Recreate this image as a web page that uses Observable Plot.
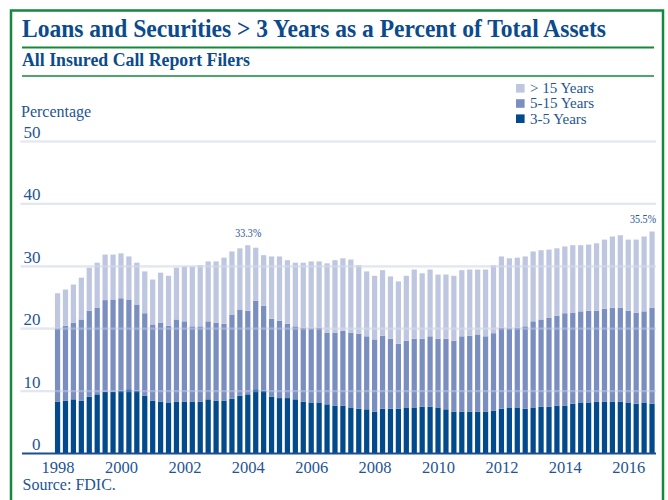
<!DOCTYPE html>
<html><head><meta charset="utf-8">
<script src="https://cdn.jsdelivr.net/npm/d3@7"></script>
<script src="https://cdn.jsdelivr.net/npm/@observablehq/plot@0.6"></script>
<style>
body{margin:0;background:#fff;}
#wrap{position:relative;width:668px;height:500px;overflow:hidden;background:#fff;}
#wrap svg{position:absolute;left:0;top:0;}
</style></head><body><div id="wrap"></div>
<script>
// Categories: quarters 1998Q1 .. 2016Q4
const years = ["1998","1999","2000","2001","2002","2003","2004","2005","2006","2007","2008","2009","2010","2011","2012","2013","2014","2015","2016"];
const quarters = years.flatMap(y => ["Q1","Q2","Q3","Q4"].map(q => y + q));
const series = ["3-5 Years", "5-15 Years", "> 15 Years"];
const colors = ["#034a8c", "#7a8ebf", "#bfc7e0"];

// Series values (percent of total assets), one per quarter
const v3to5 = [
  8.2, 8.4, 8.6, 8.4,  9.0, 9.4, 9.8, 9.8,  10.0, 10.2, 10.0, 9.2,  8.4, 8.2, 8.1, 8.2,
  8.2, 8.2, 8.2, 8.6,  8.4, 8.4, 8.7, 9.2,  9.4, 10.2, 10.0, 9.0,  8.8, 8.8, 8.6, 8.2,
  8.1, 8.1, 7.8, 7.6,  7.6, 7.3, 7.1, 7.0,  6.6, 7.1, 7.1, 7.1,  7.3, 7.3, 7.4, 7.4,
  7.3, 7.0, 6.6, 6.6,  6.6, 6.6, 6.6, 6.8,  7.1, 7.3, 7.3, 7.1,  7.3, 7.4, 7.4, 7.6,
  7.6, 7.9, 8.1, 8.1,  8.2, 8.2, 8.2, 8.2,  8.1, 7.9, 8.1, 7.9
];
const v5to15 = [
  11.8, 12.0, 12.3, 13.0,  13.8, 13.9, 14.7, 14.8,  14.8, 14.4, 13.8, 13.2,  12.2, 12.7, 12.3, 13.2,
  12.9, 12.1, 12.1, 12.5,  12.5, 12.3, 13.5, 13.8,  13.4, 14.2, 13.6, 12.5,  12.4, 11.9, 11.7, 11.9,
  11.9, 12.0, 11.5, 11.7,  12.0, 12.0, 12.0, 11.7,  11.6, 11.7, 11.2, 10.4,  10.7, 11.0, 10.9, 11.3,
  11.0, 11.3, 11.4, 12.1,  12.2, 12.4, 12.1, 12.4,  13.0, 12.7, 12.8, 13.2,  13.8, 14.0, 14.3, 14.4,
  14.8, 14.6, 14.6, 14.7,  14.6, 14.9, 15.1, 15.1,  14.7, 14.6, 14.6, 15.4
];
const vOver15 = [
  5.6, 5.8, 6.1, 6.7,  6.9, 7.2, 7.3, 7.2,  7.2, 6.9, 6.7, 6.7,  7.2, 8.0, 8.0, 8.3,
  8.8, 9.6, 9.8, 9.6,  9.8, 10.6, 10.1, 9.8,  10.5, 8.5, 8.1, 10.0,  10.3, 10.2, 10.2, 10.4,
  10.7, 10.6, 11.1, 11.6,  11.6, 11.7, 11.0, 10.4,  10.2, 10.5, 10.0, 10.0,  10.4, 11.1, 10.5, 10.7,
  10.3, 10.3, 10.4, 10.6,  10.6, 10.4, 10.7, 10.9,  11.4, 11.2, 11.2, 11.2,  11.2, 11.1, 10.9, 10.8,
  10.7, 10.8, 10.6, 10.6,  10.8, 11.1, 11.4, 11.6,  11.4, 11.7, 12.0, 12.2
];

// Tick labels
const yTicks = [0, 10, 20, 30, 40, 50];
const xTickQuarters = ["1998Q1","2000Q1","2002Q1","2004Q1","2006Q1","2008Q1","2010Q1","2012Q1","2014Q1","2016Q1"];
const callouts = [{q: "2004Q1", value: 33.3}, {q: "2016Q4", value: 35.5}];

const seriesValues = [v3to5, v5to15, vOver15];
const rows = series.flatMap((s, i) => quarters.map((q, j) => ({q, series: s, value: seriesValues[i][j]})));

const textBlue = "#1f5593";
const green = "#14893c";
const titleBlue = "#0b4a8c";
const font = "'Liberation Serif', 'DejaVu Serif', serif";

const chart = Plot.plot({
  width: 668, height: 500,
  marginTop: 141, marginBottom: 47, marginLeft: 53.6, marginRight: 12,
  style: {fontFamily: font, color: textBlue, background: "transparent", overflow: "visible"},
  x: {type: "band", domain: quarters, paddingInner: 0.34, paddingOuter: 0.17, axis: null, label: null},
  y: {domain: [0, 50], axis: null, label: null},
  color: {domain: series, range: colors},
  marks: [
    Plot.ruleY(yTicks.filter(d => d > 0), {stroke: "#dde2ef", strokeWidth: 2.2, insetLeft: -33}),
    Plot.barY(rows, {x: "q", y: "value", fill: "series", order: series}),
    Plot.ruleY(yTicks.filter(d => d > 0), {stroke: "#eef1f8", strokeOpacity: 0.3, strokeWidth: 2.2, insetLeft: -33}),
    Plot.ruleY([0], {stroke: "#1d4f8d", strokeWidth: 2, insetLeft: -31.6}),
    Plot.axisY(yTicks, {anchor: "left", label: null, tickSize: 0, tickPadding: 0, dx: -13.6, dy: -9, fontSize: 17, fill: textBlue}),
    Plot.axisX(xTickQuarters, {anchor: "bottom", label: null, tickSize: 0, tickPadding: 8, tickFormat: d => d.slice(0, 4), fontSize: 16.5, fill: textBlue}),
    Plot.text(callouts.slice(0, 1), {x: "q", y: "value", text: d => d.value.toFixed(1) + "%", dy: -13, fontSize: 12.5, fill: textBlue, className: "callout"}),
    Plot.text(callouts.slice(1), {x: "q", y: "value", text: d => d.value.toFixed(1) + "%", dy: -12.5, dx: 3.5, textAnchor: "end", fontSize: 12.5, fill: textBlue, className: "callout"})
  ]
});
d3.select(chart).selectAll(".callout text").attr("textLength", 26).attr("lengthAdjust", "spacingAndGlyphs");

const wrap = document.getElementById("wrap");
wrap.appendChild(chart);

// Overlay: frame, titles, legend, notes
const ov = d3.select(wrap).append("svg").attr("width", 668).attr("height", 500)
  .style("font-family", font);
ov.append("rect").attr("x", 11).attr("y", 10.5).attr("width", 652).attr("height", 600)
  .attr("fill", "none").attr("stroke", green).attr("stroke-width", 2.5);
ov.append("text").attr("x", 22).attr("y", 36.7).attr("font-size", 26).attr("font-weight", "bold")
  .attr("fill", titleBlue).attr("textLength", 584).attr("lengthAdjust", "spacingAndGlyphs")
  .text("Loans and Securities > 3 Years as a Percent of Total Assets");
ov.append("line").attr("x1", 22).attr("x2", 654).attr("y1", 47.5).attr("y2", 47.5)
  .attr("stroke", green).attr("stroke-width", 2.2);
ov.append("text").attr("x", 22).attr("y", 66).attr("font-size", 18).attr("font-weight", "bold")
  .attr("fill", titleBlue).attr("textLength", 228).attr("lengthAdjust", "spacingAndGlyphs")
  .text("All Insured Call Report Filers");
ov.append("line").attr("x1", 22).attr("x2", 654).attr("y1", 76).attr("y2", 76)
  .attr("stroke", green).attr("stroke-width", 1.4);

const legendItems = [series[2], series[1], series[0]];
const legendColors = [colors[2], colors[1], colors[0]];
legendItems.forEach((s, i) => {
  const cy = 88.3 + i * 15.2;
  ov.append("rect").attr("x", 516).attr("y", cy - 4.3).attr("width", 8.6).attr("height", 8.6).attr("fill", legendColors[i]);
  ov.append("text").attr("x", 530).attr("y", cy + 4.8).attr("font-size", 15).attr("fill", textBlue).text(s);
});

ov.append("text").attr("x", 21).attr("y", 116.5).attr("font-size", 16).attr("fill", textBlue).text("Percentage");
ov.append("text").attr("x", 22.5).attr("y", 490).attr("font-size", 16).attr("fill", textBlue).text("Source: FDIC.");
</script>
</body></html>
